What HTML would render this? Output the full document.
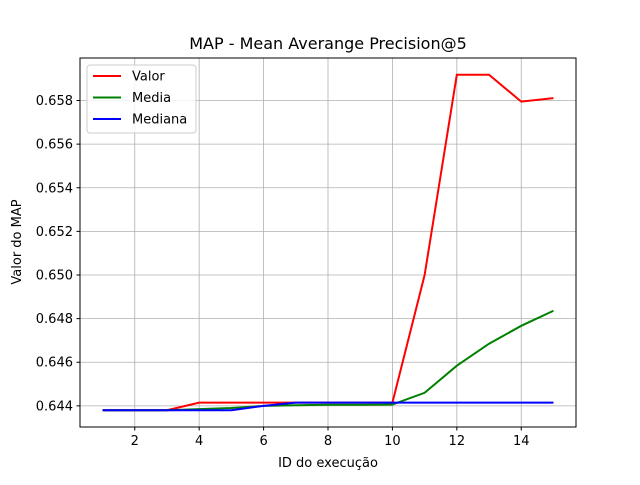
<!DOCTYPE html>
<html><head><meta charset="utf-8"><style>
body{margin:0;background:#fff;}
svg text{font-family:"DejaVu Sans","Liberation Sans",sans-serif;fill:#000;}
</style></head><body>
<svg id="chart" width="640" height="480" xmlns="http://www.w3.org/2000/svg">
<rect width="640" height="480" fill="#fff"/>
<text x="328" y="49" font-size="16" text-anchor="middle">MAP - Mean Averange Precision@5</text>
<g id="grid"></g>
<g id="ticks"></g>
<g id="lines"></g>
<rect x="80" y="58" width="496" height="369" fill="none" stroke="#000" stroke-width="1"/>
<text x="328" y="467" font-size="13" text-anchor="middle">ID do execução</text>
<text transform="translate(21,242) rotate(-90)" font-size="13" text-anchor="middle">Valor do MAP</text>
<g id="legend">
<rect x="87" y="65" width="109" height="68" rx="3" fill="#fff" fill-opacity="0.8" stroke="#ccc"/>
</g>
</svg>
<script>
const xs=[1,2,3,4,5,6,7,8,9,10,11,12,13,14,15];
const valor=[0.6438,0.6438,0.6438,0.64415,0.64415,0.64415,0.64415,0.64415,0.64415,0.64415,0.6500,0.65918,0.65918,0.65795,0.65811];
const media=[0.6438,0.6438,0.6438,0.64385,0.6439,0.6440,0.64403,0.64405,0.64405,0.64406,0.6446,0.64584,0.64685,0.64767,0.64836];
const mediana=[0.6438,0.6438,0.6438,0.6438,0.6438,0.6440,0.64415,0.64415,0.64415,0.64415,0.64415,0.64415,0.64415,0.64415,0.64415];
const xTicks=[2,4,6,8,10,12,14];
const yTicks=[0.644,0.646,0.648,0.650,0.652,0.654,0.656,0.658];
const seriesNames=["Valor","Media","Mediana"];
const NS="http://www.w3.org/2000/svg";
const L=80,R=576,T=58,B=427;
const all=valor.concat(media,mediana);
const ymin=Math.min(...all),ymax=Math.max(...all),yr=ymax-ymin;
const y0=ymin-0.05*yr,y1=ymax+0.05*yr;
const x0=xs[0]-0.05*(xs[xs.length-1]-xs[0]),x1=xs[xs.length-1]+0.05*(xs[xs.length-1]-xs[0]);
const sx=v=>L+(v-x0)/(x1-x0)*(R-L);
const sy=v=>B-(v-y0)/(y1-y0)*(B-T);
function mk(t,a,p){const e=document.createElementNS(NS,t);for(const k in a)e.setAttribute(k,a[k]);document.getElementById(p).appendChild(e);return e;}
xTicks.forEach(t=>{const x=sx(t);
const g=mk('line',{x1:x,x2:x,y1:T,y2:B,stroke:'#b0b0b0','stroke-width':0.8},'grid');


mk('line',{x1:x,x2:x,y1:B,y2:B+3.5,stroke:'#000'},'ticks');
const tx=mk('text',{x:x,y:B+18,'font-size':13,'text-anchor':'middle'},'ticks');tx.textContent=t;

});
yTicks.forEach(t=>{const y=sy(t);
const g=mk('line',{x1:L,x2:R,y1:y,y2:y,stroke:'#b0b0b0','stroke-width':0.8},'grid');


mk('line',{x1:L-3.5,x2:L,y1:y,y2:y,stroke:'#000'},'ticks');
const tx=mk('text',{x:L-7,y:y+4.5,'font-size':13,'text-anchor':'end'},'ticks');tx.textContent=t.toFixed(3);

});
const series=[valor,media,mediana],cols=['#ff0000','#008000','#0000ff'];
series.forEach((s,i)=>{
const p=mk('polyline',{points:s.map((v,j)=>sx(xs[j])+','+sy(v)).join(' '),fill:'none',stroke:cols[i],'stroke-width':2},'lines');


const ly=76+i*21.5;
mk('line',{x1:93,x2:121,y1:ly,y2:ly,stroke:cols[i],'stroke-width':2},'legend');
const t=mk('text',{x:132,y:ly+4.5,'font-size':13},'legend');t.textContent=seriesNames[i];


});
</script>
</body></html>
